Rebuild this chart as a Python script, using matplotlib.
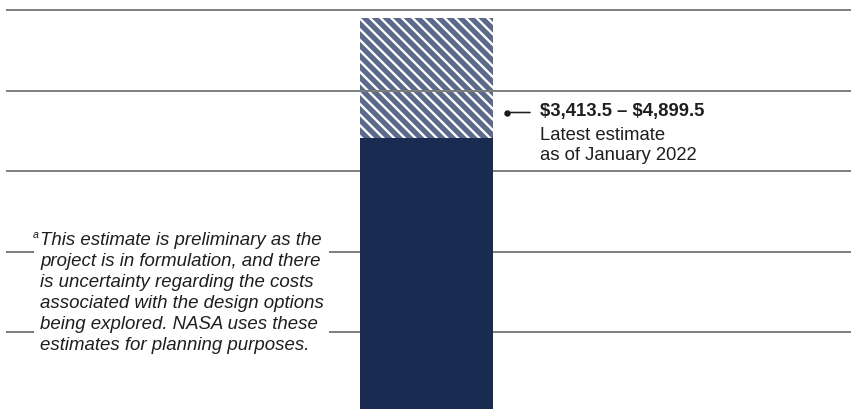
import matplotlib
matplotlib.use("Agg")
import matplotlib.pyplot as plt

# Cost figures in millions of dollars
categories = ["Estimate"]
low_estimate = [3413.5]
high_estimate = [4899.5]
gridline_values = [1000, 2000, 3000, 4000, 5000]
range_label = r"\$3,413.5 – \$4,899.5"
estimate_note = "Latest estimate\nas of January 2022"
footnote = ("This estimate is preliminary as the\n"
            "project is in formulation, and there\n"
            "is uncertainty regarding the costs\n"
            "associated with the design options\n"
            "being explored. NASA uses these\n"
            "estimates for planning purposes.")

NAVY = "#1a2b52"
HATCH_FACE = "#5b6a8b"
GRID = "#7d7d7d"
INK = "#1e1e1e"

plt.rcParams["font.family"] = ["Liberation Sans", "DejaVu Sans"]
plt.rcParams["hatch.linewidth"] = 1.3

DPI = 128
W, H = 856, 409
fig = plt.figure(figsize=(W / DPI, H / DPI), dpi=DPI)
ax = fig.add_axes([0, 0, 1, 1])
ax.set_axis_off()
ax.set_xlim(-3.207, 3.229)
ax.set_ylim(46, 5127)


def fx(px):
    return px / W


def fy(py):
    return 1 - py / H


for v in gridline_values:
    ax.axhline(v, xmin=fx(7), xmax=fx(850), color=GRID, lw=1.1, zorder=1)

x = range(len(categories))
spread = [h - l for h, l in zip(high_estimate, low_estimate)]
ax.bar(x, spread, bottom=low_estimate, width=1.0, color=HATCH_FACE,
       edgecolor="white", linewidth=0, hatch="\\\\\\\\", zorder=0.5)
ax.bar(x, low_estimate, width=1.0, color=NAVY, linewidth=0, zorder=3)

# Range callout
ax.annotate("", xy=(fx(507), fy(112.5)), xytext=(fx(530), fy(112.5)),
            xycoords="axes fraction", textcoords="axes fraction",
            arrowprops=dict(arrowstyle="-", color=INK, lw=0.9,
                            shrinkA=0, shrinkB=0))
ax.plot([fx(507)], [fy(112.5)], marker="o", ms=2.6, color=INK,
        transform=ax.transAxes, zorder=5)
ax.text(fx(540), fy(116), range_label, transform=ax.transAxes,
        fontsize=10.4, fontweight="bold", color=INK, va="baseline", ha="left")
ax.text(fx(540), fy(160), estimate_note, transform=ax.transAxes,
        fontsize=10.4, color=INK, va="baseline", ha="left", linespacing=1.24)

# Footnote with white backing over the gridlines
ax.text(fx(40), fy(350), footnote, transform=ax.transAxes, fontsize=10.5,
        style="italic", color=INK, va="baseline", ha="left", linespacing=1.31,
        zorder=6,
        bbox=dict(boxstyle="square,pad=0.3", facecolor="white", edgecolor="none"))
ax.text(fx(33), fy(238), "a", transform=ax.transAxes, fontsize=6.0,
        style="italic", color=INK, va="baseline", ha="left", zorder=7)

fig.savefig("out.png", dpi=DPI)
